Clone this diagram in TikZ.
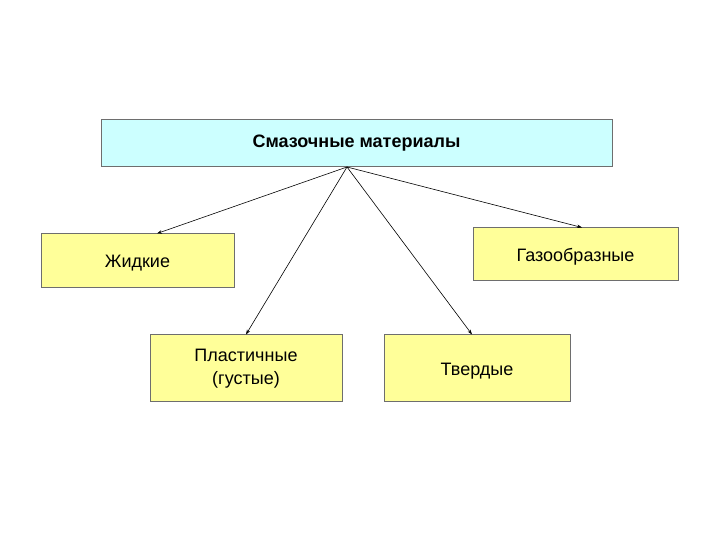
\documentclass[tikz,border=0pt]{standalone}
\usepackage{fontspec}
\setmainfont{Liberation Sans}
\usetikzlibrary{arrows.meta}
\definecolor{topfill}{HTML}{CCFFFF}
\definecolor{boxfill}{HTML}{FFFF99}
\definecolor{boxline}{HTML}{6E6E6E}
\begin{document}
\begin{tikzpicture}[x=1pt,y=1pt,
  topbox/.style={draw=boxline,line width=1pt,fill=topfill,inner sep=0pt},
  catbox/.style={draw=boxline,line width=1pt,fill=boxfill,inner sep=0pt,align=center},
  onebox/.style={catbox,text height=16pt,text depth=2.5pt},
  conn/.style={draw=black,line width=0.6pt,-{Stealth[length=5pt,width=3.5pt]}},
  every node/.style={font=\fontsize{18}{23}\selectfont}]
\useasboundingbox (0,0) rectangle (720,540);
\node[topbox,minimum width=511pt,minimum height=47pt,font=\fontsize{18}{23}\selectfont\bfseries] (top) at (356.5,396.5) {Смазочные материалы};
\node[onebox,minimum width=193pt,minimum height=54pt] (liq) at (137.5,279) {Жидкие};
\node[onebox,minimum width=205pt,minimum height=53pt] (gas) at (575.5,285.5) {Газообразные};
\node[catbox,minimum width=192pt,minimum height=67pt] (pla) at (246,171.5) {Пластичные\\(густые)};
\node[onebox,minimum width=186pt,minimum height=67pt] (sol) at (477,171.5) {Твердые};
\coordinate (src) at (347,373);
\draw[conn] (src) -- (liq.north -| 157,0);
\draw[conn] (src) -- (pla.north -| 246,0);
\draw[conn] (src) -- (sol.north -| 472,0);
\draw[conn] (src) -- (gas.north -| 582,0);
\end{tikzpicture}
\end{document}
